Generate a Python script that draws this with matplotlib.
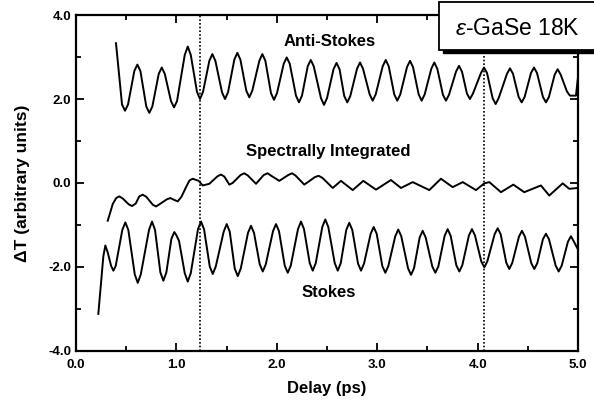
import numpy as np
import matplotlib
matplotlib.use("Agg")
from matplotlib import pyplot as plt
from matplotlib.patches import Rectangle
from matplotlib.ticker import MultipleLocator, FormatStrFormatter

plt.rcParams['font.family'] = ['Liberation Sans', 'DejaVu Sans']
plt.rcParams['mathtext.fontset'] = 'custom'
plt.rcParams['mathtext.it'] = 'Liberation Sans:italic'

t_as = [0.398, 0.458, 0.488, 0.518, 0.581, 0.611, 0.641, 0.700, 0.730, 0.760,
        0.824, 0.854, 0.884, 0.946, 0.976, 1.006, 1.083, 1.113, 1.143, 1.205,
        1.235, 1.265, 1.328, 1.358, 1.388, 1.454, 1.484, 1.514, 1.577, 1.607,
        1.637, 1.696, 1.726, 1.756, 1.826, 1.856, 1.886, 1.942, 1.972, 2.002,
        2.069, 2.099, 2.129, 2.191, 2.221, 2.251, 2.308, 2.338, 2.368, 2.440,
        2.470, 2.500, 2.565, 2.595, 2.625, 2.672, 2.702, 2.732, 2.799, 2.829,
        2.859, 2.925, 2.955, 2.985, 3.055, 3.085, 3.115, 3.170, 3.200, 3.230,
        3.297, 3.327, 3.357, 3.413, 3.443, 3.473, 3.539, 3.569, 3.599, 3.655,
        3.685, 3.715, 3.785, 3.815, 3.845, 3.894, 3.924, 3.954, 4.034, 4.064,
        4.094, 4.150, 4.180, 4.210, 4.293, 4.323, 4.353, 4.409, 4.439, 4.469,
        4.532, 4.562, 4.592, 4.651, 4.681, 4.711, 4.768, 4.798, 4.828, 4.890,
        4.920, 4.980, 5.000]
v_as = [3.33, 1.87, 1.72, 1.87, 2.67, 2.82, 2.67, 1.82, 1.67, 1.82,
        2.60, 2.75, 2.60, 1.95, 1.80, 1.95, 3.05, 3.25, 3.05, 2.17,
        2.00, 2.17, 2.91, 3.07, 2.91, 2.16, 2.00, 2.16, 2.94, 3.10,
        2.94, 2.20, 2.04, 2.20, 2.91, 3.07, 2.91, 2.14, 1.98, 2.14,
        2.84, 2.99, 2.84, 2.08, 1.92, 2.08, 2.78, 2.93, 2.78, 2.02,
        1.86, 2.02, 2.71, 2.86, 2.71, 2.07, 1.92, 2.07, 2.72, 2.87,
        2.72, 2.11, 1.96, 2.11, 2.78, 2.93, 2.78, 2.11, 1.96, 2.11,
        2.76, 2.91, 2.76, 2.11, 1.96, 2.11, 2.72, 2.87, 2.72, 2.10,
        1.96, 2.10, 2.65, 2.79, 2.65, 2.13, 2.00, 2.13, 2.62, 2.75,
        2.62, 2.02, 1.88, 2.02, 2.60, 2.73, 2.60, 2.05, 1.92, 2.05,
        2.62, 2.75, 2.62, 2.05, 1.92, 2.05, 2.58, 2.71, 2.58, 2.18,
        2.08, 2.08, 2.52]

# Spectrally integrated trace
t_si = [0.316, 0.366, 0.400, 0.431, 0.465, 0.525, 0.558, 0.595, 0.630, 0.664,
        0.700, 0.765, 0.797, 0.830, 0.905, 0.939, 0.975, 1.013, 1.050, 1.096,
        1.130, 1.162, 1.222, 1.262, 1.328, 1.410, 1.444, 1.478, 1.527, 1.560,
        1.640, 1.676, 1.710, 1.793, 1.870, 1.909, 1.945, 2.025, 2.115, 2.151,
        2.185, 2.274, 2.380, 2.417, 2.455, 2.557, 2.639, 2.756, 2.862, 2.988,
        3.137, 3.237, 3.354, 3.519, 3.635, 3.752, 3.852, 3.984, 4.067, 4.117,
        4.233, 4.356, 4.465, 4.631, 4.714, 4.848, 4.913, 4.997]
v_si = [-0.90, -0.50, -0.36, -0.32, -0.37, -0.51, -0.55, -0.49, -0.32, -0.28,
        -0.33, -0.52, -0.56, -0.51, -0.39, -0.36, -0.40, -0.44, -0.33, -0.10,
        0.06, 0.10, 0.05, -0.06, -0.02, 0.16, 0.20, 0.15, -0.04, 0.00,
        0.19, 0.23, 0.18, -0.02, 0.19, 0.23, 0.17, 0.05, 0.19, 0.23,
        0.18, -0.04, 0.14, 0.17, 0.12, -0.12, 0.05, -0.17, 0.05, -0.16,
        0.07, -0.12, 0.02, -0.17, 0.10, -0.10, 0.02, -0.17, -0.01, 0.02,
        -0.22, -0.04, -0.22, -0.06, -0.30, -0.01, -0.14, -0.12]

# Stokes trace
t_st = [0.222, 0.272, 0.292, 0.315, 0.350, 0.372, 0.395, 0.461, 0.491, 0.521,
        0.585, 0.615, 0.645, 0.727, 0.757, 0.787, 0.840, 0.870, 0.900, 0.950,
        0.979, 1.000, 1.026, 1.083, 1.113, 1.143, 1.215, 1.245, 1.275, 1.332,
        1.362, 1.392, 1.471, 1.501, 1.531, 1.581, 1.611, 1.641, 1.713, 1.743,
        1.773, 1.830, 1.860, 1.890, 1.962, 1.992, 2.022, 2.079, 2.109, 2.139,
        2.211, 2.241, 2.271, 2.328, 2.358, 2.388, 2.453, 2.483, 2.513, 2.577,
        2.607, 2.637, 2.692, 2.722, 2.752, 2.809, 2.839, 2.869, 2.935, 2.965,
        2.995, 3.051, 3.081, 3.111, 3.180, 3.210, 3.240, 3.307, 3.337, 3.367,
        3.423, 3.453, 3.483, 3.549, 3.579, 3.609, 3.672, 3.702, 3.732, 3.788,
        3.818, 3.848, 3.914, 3.944, 3.974, 4.037, 4.067, 4.097, 4.170, 4.200,
        4.230, 4.286, 4.316, 4.346, 4.412, 4.442, 4.472, 4.535, 4.565, 4.595,
        4.651, 4.681, 4.711, 4.778, 4.808, 4.838, 4.900, 4.930, 4.960, 4.997]
v_st = [-3.12, -1.75, -1.49, -1.65, -1.98, -2.09, -1.98, -1.12, -0.94, -1.12,
        -2.18, -2.38, -2.18, -1.12, -0.92, -1.12, -2.13, -2.33, -2.13, -1.33,
        -1.17, -1.25, -1.38, -2.15, -2.35, -2.15, -1.10, -0.92, -1.10, -1.99,
        -2.17, -1.99, -1.16, -0.98, -1.16, -2.04, -2.22, -2.04, -1.19, -1.02,
        -1.19, -1.94, -2.11, -1.94, -1.15, -0.98, -1.15, -1.97, -2.14, -1.97,
        -1.10, -0.92, -1.10, -1.91, -2.09, -1.91, -1.05, -0.87, -1.05, -1.91,
        -2.09, -1.91, -1.12, -0.95, -1.12, -1.92, -2.09, -1.92, -1.21, -1.05,
        -1.21, -1.98, -2.14, -1.98, -1.27, -1.11, -1.27, -2.03, -2.19, -2.03,
        -1.30, -1.14, -1.30, -1.99, -2.14, -1.99, -1.26, -1.10, -1.26, -1.96,
        -2.11, -1.96, -1.25, -1.10, -1.25, -1.87, -2.01, -1.87, -1.22, -1.08,
        -1.22, -1.90, -2.05, -1.90, -1.28, -1.14, -1.28, -1.91, -2.05, -1.91,
        -1.34, -1.21, -1.34, -1.97, -2.11, -1.97, -1.40, -1.27, -1.40, -1.57]

# dotted markers
marks = [1.235, 4.06]

fig = plt.figure(figsize=(5.94, 4.07), dpi=100)
ax = fig.add_axes([0.128, 0.138, 0.845, 0.825])

for t, v in [(t_as, v_as), (t_si, v_si), (t_st, v_st)]:
    ax.plot(t, v, color='black', lw=1.4, solid_joinstyle='round')

for m in marks:
    ax.axvline(m, color='black', lw=1.2, ls=(0, (1.0, 1.2)))

ax.text(2.53, 3.36, 'Anti-Stokes', ha='center', va='center', fontsize=12, fontweight='bold')
ax.text(2.51, 0.74, 'Spectrally Integrated', ha='center', va='center', fontsize=12, fontweight='bold')
ax.text(2.52, -2.62, 'Stokes', ha='center', va='center', fontsize=12, fontweight='bold')

ax.set_xlim(0, 5)
ax.set_ylim(-4, 4)
ax.xaxis.set_major_locator(MultipleLocator(1.0))
ax.xaxis.set_minor_locator(MultipleLocator(0.5))
ax.yaxis.set_major_locator(MultipleLocator(2.0))
ax.yaxis.set_minor_locator(MultipleLocator(1.0))
ax.xaxis.set_major_formatter(FormatStrFormatter('%.1f'))
ax.yaxis.set_major_formatter(FormatStrFormatter('%.1f'))
ax.tick_params(which='both', direction='in', top=True, right=True, width=1.3)
ax.tick_params(which='major', length=6, labelsize=9.5)
ax.tick_params(axis='x', which='major', pad=6)
ax.tick_params(which='minor', length=3.5)
for lab in ax.get_xticklabels() + ax.get_yticklabels():
    lab.set_fontweight('bold')
for s in ax.spines.values():
    s.set_linewidth(1.6)

ax.set_xlabel('Delay (ps)', fontsize=12, fontweight='bold', labelpad=7)
ax.set_ylabel('ΔT (arbitrary units)', fontsize=12.5, fontweight='bold', labelpad=13)

# sample label box with drop shadow
fig.patches.append(Rectangle((0.745, 0.870), 0.30, 0.125, transform=fig.transFigure,
                             facecolor='black', edgecolor='black', zorder=5))
fig.patches.append(Rectangle((0.739, 0.878), 0.30, 0.117, transform=fig.transFigure,
                             facecolor='white', edgecolor='black', lw=1.3, zorder=6))
fig.text(0.872, 0.931, r'$\it{\varepsilon}$-GaSe 18K', ha='center', va='center',
         fontsize=16.5, zorder=7)

fig.savefig('out.png', dpi=100)
